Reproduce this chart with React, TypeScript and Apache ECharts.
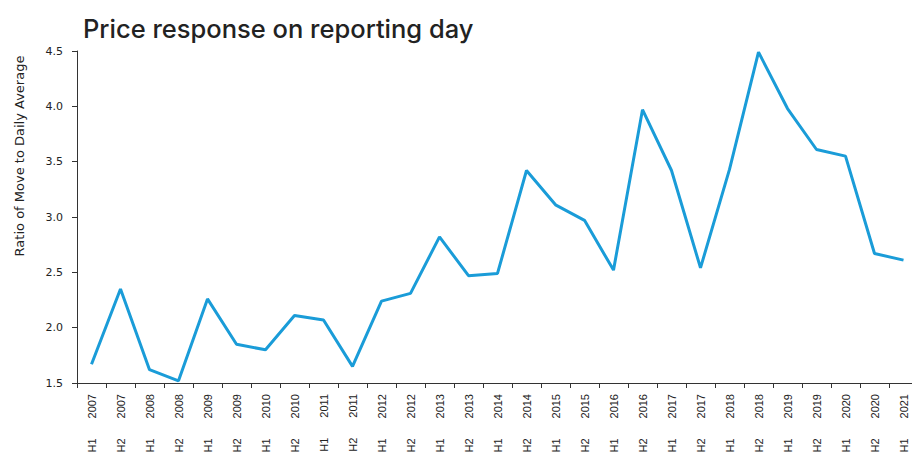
import React, { useEffect, useRef } from "react";
import * as echarts from "echarts";

const categories: string[] = [
  "H1 2007", "H2 2007", "H1 2008", "H2 2008", "H1 2009", "H2 2009", "H1 2010", "H2 2010",
  "H1 2011", "H2 2011", "H1 2012", "H2 2012", "H1 2013", "H2 2013", "H1 2014", "H2 2014",
  "H1 2015", "H2 2015", "H1 2016", "H2 2016", "H1 2017", "H2 2017", "H1 2018", "H2 2018",
  "H1 2019", "H2 2019", "H1 2020", "H2 2020", "H1 2021",
];

const ratioValues: number[] = [
  1.67, 2.35, 1.62, 1.52, 2.26, 1.85, 1.8, 2.11,
  2.07, 1.65, 2.24, 2.31, 2.82, 2.47, 2.49, 3.42,
  3.11, 2.97, 2.52, 3.97, 3.42, 2.54, 3.43, 4.49,
  3.98, 3.61, 3.55, 2.67, 2.61,
];

const yTicks = { min: 1.5, max: 4.5, interval: 0.5 };

const FONT = "Liberation Sans, Arial, sans-serif";
const WIDE = "DejaVu Sans, sans-serif";

export default function App() {
  const ref = useRef<HTMLDivElement>(null);
  useEffect(() => {
    if (!ref.current) return;
    const chart = echarts.init(ref.current, undefined, { renderer: "svg" });
    chart.setOption({
      animation: false,
      backgroundColor: "#ffffff",
      title: {
        text: "Price response on reporting day",
        left: 78,
        top: 10,
        textStyle: {
          fontFamily: "Inter, Liberation Sans, sans-serif",
          fontSize: 25.5,
          fontWeight: 500,
          color: "#222222",
        },
      },
      graphic: [
        {
          type: "text",
          x: 19,
          y: 156,
          rotation: Math.PI / 2,
          style: {
            text: "Ratio of Move to Daily Average",
            fontFamily: WIDE,
            fontSize: 13,
            fill: "#222222",
            align: "center",
            verticalAlign: "middle",
          },
        },
      ],
      grid: {
        left: 77,
        right: -6,
        top: 51,
        bottom: 70,
        containLabel: false,
        outerBoundsMode: "none",
      },
      xAxis: {
        type: "category",
        data: categories,
        boundaryGap: true,
        axisLine: { lineStyle: { color: "#333333", width: 1 } },
        axisTick: { show: true, length: 5, alignWithLabel: false, lineStyle: { color: "#333333" } },
        axisLabel: {
          rotate: 90,
          interval: 0,
          margin: 11,
          fontFamily: FONT,
          fontSize: 11,
          color: "#222222",
          formatter: (v: string) => {
            const parts = v.split(" ");
            return `{h|${parts[0]}}{y|${parts[1]}}`;
          },
          rich: {
            h: { fontFamily: FONT, fontSize: 11, color: "#222222" },
            y: { fontFamily: FONT, fontSize: 11, color: "#222222", padding: [0, 0, 0, 20] },
          },
        },
        splitLine: { show: false },
      },
      yAxis: {
        type: "value",
        min: yTicks.min,
        max: yTicks.max,
        interval: yTicks.interval,
        axisLine: { show: true, lineStyle: { color: "#333333", width: 1 } },
        axisTick: { show: true, length: 5, lineStyle: { color: "#333333" } },
        axisLabel: {
          margin: 14,
          fontFamily: WIDE,
          fontSize: 11,
          color: "#222222",
          formatter: (v: number) => v.toFixed(1),
        },
        splitLine: { show: false },
      },
      series: [
        {
          type: "line",
          data: ratioValues,
          symbol: "none",
          lineStyle: { color: "#1a9cd8", width: 3 },
          itemStyle: { color: "#1a9cd8" },
        },
      ],
    });
    return () => chart.dispose();
  }, []);
  return <div ref={ref} style={{ width: 912, height: 453, position: "absolute", left: 0, top: 0 }} />;
}
